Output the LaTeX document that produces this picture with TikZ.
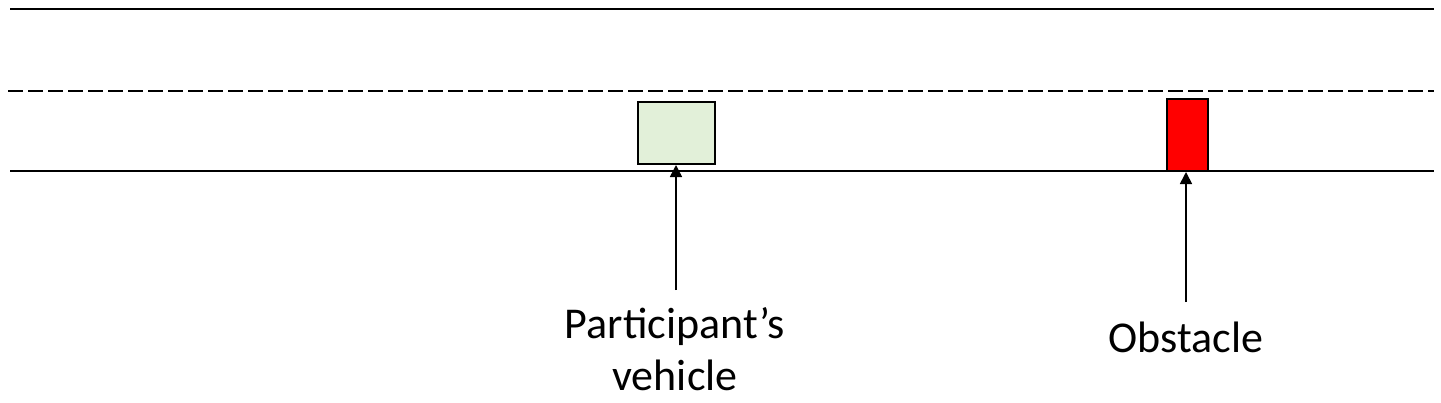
\documentclass[tikz,border=0pt]{standalone}
\usepackage{fontspec}
\setmainfont{Carlito}
\usetikzlibrary{arrows.meta}
\definecolor{vgreen}{HTML}{E2F0D9}
\tikzset{
  road/.style={line width=2pt, black},
  lane/.style={line width=2.3pt, black, dash pattern=on 14.5pt off 5.5pt},
  carbox/.style={draw=black, line width=2pt, fill=vgreen},
  obstbox/.style={draw=black, line width=2pt, fill=red},
  pointer/.style={line width=1.6pt, -{Triangle[length=12pt,width=12pt]}},
  lbl/.style={font=\fontsize{44}{52}\selectfont, align=center, inner sep=0pt}
}
\begin{document}
\begin{tikzpicture}[x=1pt,y=-1pt]
\useasboundingbox (0,0) rectangle (1441,402);
\draw[road] (10,9) -- (1434,9);
\draw[lane] (8,91) -- (1434,91);
\draw[road] (10,171) -- (1434,171);
\node[carbox, minimum width=77pt, minimum height=62pt, inner sep=0pt, anchor=north west] (car) at (637,101) {};
\node[obstbox, minimum width=41pt, minimum height=72pt, inner sep=0pt, anchor=north west] (obs) at (1166,98) {};
\node[lbl] (carlbl) at (675,349) {Participant’s\\vehicle};
\node[lbl] (obslbl) at (1186,337) {Obstacle};
\coordinate (carfoot) at (676,290);
\coordinate (obsfoot) at (1186,302);
\draw[pointer] (carfoot) -- (car.south -| carfoot);
\draw[pointer] (obsfoot) -- (obs.south -| obsfoot);
\end{tikzpicture}
\end{document}
